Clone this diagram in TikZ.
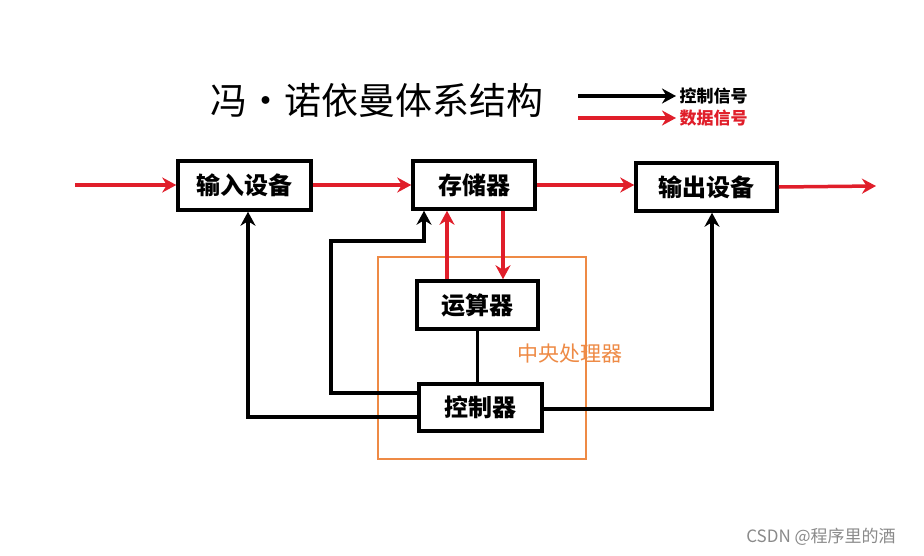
\documentclass[tikz,border=0pt]{standalone}
\usepackage{fontspec}
\usepackage{tikz}
\usetikzlibrary{arrows.meta}
\newfontfamily\cjk{Noto Sans CJK SC}
\usepackage{xcolor}
\definecolor{datared}{HTML}{E01E2A}
\definecolor{cpuorange}{HTML}{EE8A45}
\definecolor{markgray}{HTML}{8A8A8A}

\begin{document}
\begin{tikzpicture}[x=1pt, y=-1pt,
  unit/.style={draw, line width=3.5pt, fill=white, inner sep=0pt, font=\cjk\bfseries\fontsize{24}{26}\selectfont},
  ctrlline/.style={line width=3.5pt},
  ctrlarrow/.style={line width=3.5pt, -{Stealth[length=14pt,width=15pt]}},
  dataarrow/.style={line width=3.5pt, datared, -{Stealth[length=14pt,width=15pt]}}]
\useasboundingbox[fill=white] (0,0) rectangle (924,555);

% === Title and legend ===
\node (title) at (377,100) {\cjk\fontsize{37}{42}\selectfont 冯・诺依曼体系结构};
\coordinate (lc) at (578,96);
\coordinate (ld) at (578,118);
\node[anchor=west, font=\cjk\bfseries\fontsize{17}{19}\selectfont] (lctrl) at (676,96) {控制信号};
\node[anchor=west, text=datared, font=\cjk\bfseries\fontsize{17}{19}\selectfont] (ldata) at (676,118) {数据信号};
\draw[ctrlarrow] (lc) -- (lctrl.west);
\draw[dataarrow] (ld) -- (ldata.west);

% === CPU frame ===
\draw[cpuorange, line width=1.5pt] (378,257) rectangle (586,459);
\node[text=cpuorange, font=\cjk\fontsize{21}{23}\selectfont] (cpu) at (570,354) {中央处理器};

% === Units ===
\node[unit, minimum width=133pt, minimum height=49pt] (input) at (244.5,185.5) {输入设备};
\node[unit, minimum width=122pt, minimum height=48pt] (mem) at (474,185) {存储器};
\node[unit, minimum width=141pt, minimum height=48pt] (output) at (706.5,187) {输出设备};
\node[unit, minimum width=121pt, minimum height=48pt] (alu) at (477.5,305) {运算器};
\node[unit, minimum width=123pt, minimum height=47pt] (ctrl) at (480.5,407.5) {控制器};

% === Data signals ===
\coordinate (in) at (75,185);
\coordinate (out) at (876,186);
\draw[dataarrow] (in) -- (input.west |- in);
\draw[dataarrow] (input.east |- mem.east) -- (mem.west);
\draw[dataarrow] (mem.east) -- (output.west |- mem.east);
\draw[dataarrow] (output.east) -- (out);
\draw[dataarrow] ([xshift=-30.5pt]alu.north) -- ([xshift=-30.5pt]alu.north |- mem.south);
\draw[dataarrow] ([xshift=25.5pt]alu.north |- mem.south) -- ([xshift=25.5pt]alu.north);

% === Control signals ===
\coordinate (bend) at (331,241);
\draw[ctrlline] (alu.south) -- (alu.south |- ctrl.north);
\draw[ctrlarrow] ([yshift=14.5pt]ctrl.west) -| (bend) -| ([xshift=-50pt]mem.south);
\draw[ctrlarrow] ([yshift=-9.5pt]ctrl.west) -| ([xshift=3.5pt]input.south);
\draw[ctrlarrow] ([yshift=-1.5pt]ctrl.east) -| ([xshift=5.5pt]output.south);

% === Watermark ===
\node[text=markgray, font=\cjk\fontsize{17}{19}\selectfont] (mark) at (821,537) {CSDN @程序里的酒};
\end{tikzpicture}
\end{document}
